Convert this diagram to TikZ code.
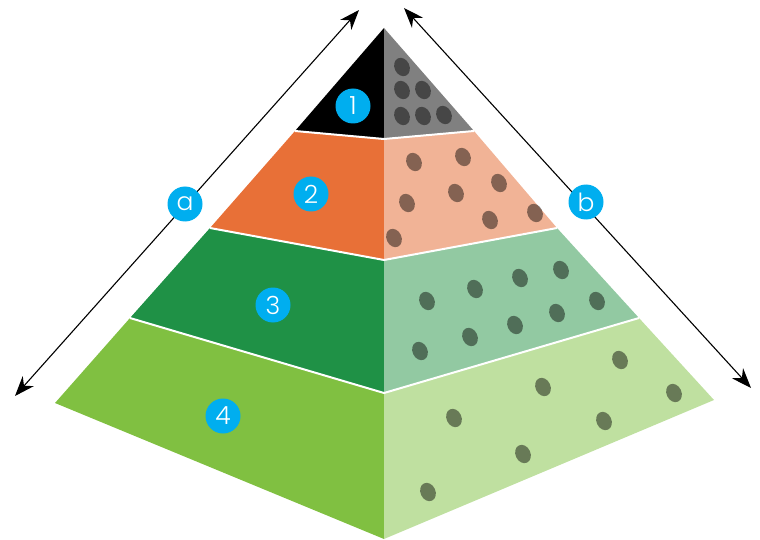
\documentclass[tikz,border=0pt]{standalone}
\usepackage{fontspec}
\setmainfont{Poppins}[UprightFont=* Light]
\usepackage{tikz}
\usetikzlibrary{shapes,arrows.meta,positioning}
\definecolor{badgeblue}{RGB}{0, 174, 239}
\definecolor{topL}{RGB}{0, 0, 0}
\definecolor{topR}{RGB}{128, 128, 128}
\definecolor{orngL}{RGB}{232, 112, 55}
\definecolor{orngR}{RGB}{241, 179, 150}
\definecolor{grnL}{RGB}{31, 145, 70}
\definecolor{grnR}{RGB}{146, 201, 162}
\definecolor{limeL}{RGB}{128, 192, 65}
\definecolor{limeR}{RGB}{191, 224, 160}
\tikzstyle{badge} = [circle, fill=badgeblue, text=white, inner sep=0pt, minimum size=35pt, font=\fontsize{25}{25}\selectfont]
\tikzstyle{sep} = [white, line width=2pt]
\tikzstyle{spot} = [fill=black, opacity=0.45]
\tikzset{sidearrow/.style={draw, line width=1.1pt, >={Stealth[length=20pt,width=15pt]}, <->}}

\begin{document}
\begin{tikzpicture}[x=1pt, y=1pt]
\useasboundingbox (0,0) rectangle (760,-540);

% corners =============================
\coordinate (T)  at (384,-28);
\coordinate (L1) at (295,-131); \coordinate (C1) at (384,-139); \coordinate (R1) at (474,-131);
\coordinate (L2) at (210,-228); \coordinate (C2) at (384,-260); \coordinate (R2) at (557,-228);
\coordinate (L3) at (130,-318); \coordinate (C3) at (384,-393); \coordinate (R3) at (639,-318);
\coordinate (L4) at (55,-403);  \coordinate (C4) at (384,-539); \coordinate (R4) at (714,-400);

% faces
\fill[topL]  (T) -- (L1) -- (C1) -- cycle;
\fill[topR]  (T) -- (C1) -- (R1) -- cycle;
\fill[orngL] (L1) -- (C1) -- (C2) -- (L2) -- cycle;
\fill[orngR] (C1) -- (R1) -- (R2) -- (C2) -- cycle;
\fill[grnL]  (L2) -- (C2) -- (C3) -- (L3) -- cycle;
\fill[grnR]  (C2) -- (R2) -- (R3) -- (C3) -- cycle;
\fill[limeL] (L3) -- (C3) -- (C4) -- (L4) -- cycle;
\fill[limeR] (C3) -- (R3) -- (R4) -- (C4) -- cycle;

% layer gaps
\draw[sep] (L1) -- (C1) -- (R1);
\draw[sep] (L2) -- (C2) -- (R2);
\draw[sep] (L3) -- (C3) -- (R3);

% spots
\foreach \px/\py in {402/67, 402/90, 423/90, 402/116, 423/116, 444/115,
  414/162, 463/157, 407/203, 456/193, 499/183, 394/238, 490/220, 535/213,
  427/301, 475/289, 520/278, 561/270, 420/351, 470/337, 515/325, 557/313, 597/301,
  620/360, 543/387, 674/393, 454/418, 604/421, 523/454, 428/492}
  \fill[spot] (\px,-\py) ellipse [x radius=7.5, y radius=9.5, rotate=25];

% sides
\coordinate (aS) at (15,-396);
\coordinate (aE) at (359,-10);
\coordinate (bS) at (404,-8);
\coordinate (bE) at (751,-388);
\draw[sidearrow] (aS) -- (aE);
\draw[sidearrow] (bS) -- (bE);

% badges
\node[badge] (one)   at (353,-106) {1};
\node[badge] (two)   at (311,-194) {2};
\node[badge] (three) at (273,-305) {3};
\node[badge] (four)  at (223,-416) {4};
\node[badge] (sa)    at (185,-204) {a};
\node[badge] (sb)    at (586,-202) {b};

\end{tikzpicture}
\end{document}
